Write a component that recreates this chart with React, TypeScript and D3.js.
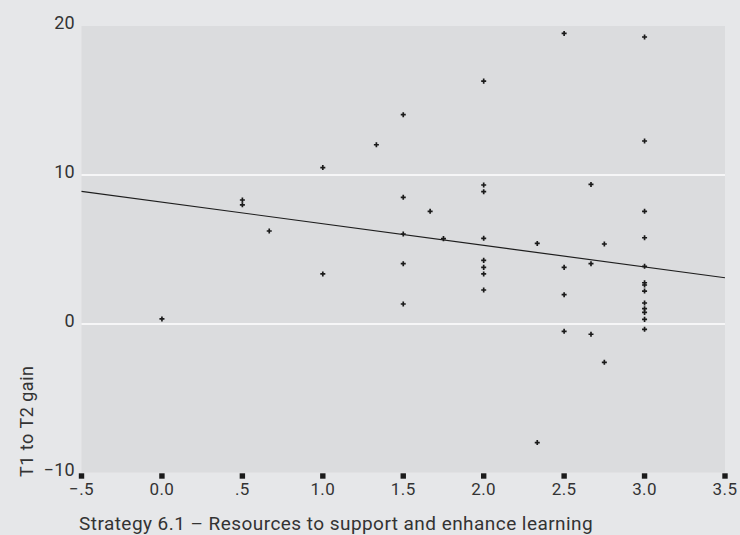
import React from "react";
import * as d3 from "d3";

// Strategy score (x) vs. T1 to T2 gain (y), one entry per school
const strategyScores: number[] = [
  0.0,
  0.5, 0.5,
  0.667,
  1.0, 1.0,
  1.333,
  1.5, 1.5, 1.5, 1.5, 1.5,
  1.667,
  1.75,
  2.0, 2.0, 2.0, 2.0, 2.0, 2.0, 2.0, 2.0,
  2.333, 2.333,
  2.5, 2.5, 2.5, 2.5,
  2.667, 2.667, 2.667,
  2.75, 2.75,
  3.0, 3.0, 3.0, 3.0, 3.0, 3.0, 3.0, 3.0, 3.0, 3.0, 3.0, 3.0, 3.0,
];

const gains: number[] = [
  0.34,
  8.32, 8.0,
  6.24,
  10.5, 3.36,
  12.03,
  14.05, 8.5, 6.04, 4.05, 1.34,
  7.56,
  5.73,
  16.3, 9.33, 8.88, 5.75, 4.27, 3.8, 3.36, 2.28,
  5.41, -7.96,
  19.5, 3.8, 1.97, -0.49,
  9.37, 4.05, -0.69,
  5.37, -2.57,
  19.26, 12.28, 7.56, 5.79, 3.87, 2.77, 2.62, 2.21, 1.41, 1.03, 0.78, 0.31, -0.36, -7.67,
];

// Fitted linear trend: gain = intercept + slope * score
const fitIntercept = 8.18;
const fitSlope = -1.45;

const xTicks: number[] = [-0.5, 0, 0.5, 1, 1.5, 2, 2.5, 3, 3.5];
const xTickLabels: string[] = ["\u2212.5", "0.0", ".5", "1.0", "1.5", "2.0", "2.5", "3.0", "3.5"];
const yTicks: number[] = [-10, 0, 10, 20];
const yTickLabels: string[] = ["\u221210", "0", "10", "20"];
const yGridLines: number[] = [0, 10];

const xTitle = "Strategy 6.1 \u2013 Resources to support and enhance learning";
const yTitle = "T1 to T2 gain";

const W = 740;
const H = 535;
const FONT = "Roboto, 'DejaVu Sans', sans-serif";
const TEXT = "#333333";

export default function App() {
  const x = d3.scaleLinear().domain([-0.5, 3.5]).range([81.5, 725]);
  const y = d3.scaleLinear().domain([-10, 20]).range([473, 26]);

  const [x0, x1] = x.range();
  const plotTop = y(20);
  const plotBottom = 472.5;

  const marker = d3.symbol().type(d3.symbolCross).size(14)() as string;
  const fitLine = d3
    .line<number>()
    .x((d) => x(d))
    .y((d) => y(fitIntercept + fitSlope * d));

  const points = strategyScores.map((s, i) => ({ s, g: gains[i] }));

  return (
    <svg
      width={W}
      height={H}
      style={{ position: "absolute", left: 0, top: 0, display: "block" }}
      fontFamily={FONT}
    >
      <rect x={0} y={0} width={W} height={H} fill="#e6e7e9" />
      <rect x={x0} y={plotTop} width={x1 - x0} height={plotBottom - plotTop} fill="#dbdcde" />

      {yGridLines.map((v) => (
        <line key={v} x1={x0} x2={x1} y1={y(v)} y2={y(v)} stroke="#ffffff" strokeWidth={1.6} />
      ))}

      {yTicks.map((v, i) => (
        <text
          key={v}
          x={75}
          y={y(v) + 3}
          textAnchor="end"
          fontSize={18}
          letterSpacing={0.3}
          fill={TEXT}
        >
          {yTickLabels[i]}
        </text>
      ))}

      {xTicks.map((v, i) => (
        <g key={v}>
          <rect x={x(v) - 2.7} y={473.3} width={5.4} height={5.4} fill="#1a1a1a" />
          <text x={x(v)} y={495} textAnchor="middle" fontSize={17} letterSpacing={0.4} fill={TEXT}>
            {xTickLabels[i]}
          </text>
        </g>
      ))}

      <path d={fitLine(x.domain()) as string} fill="none" stroke="#1e1e1e" strokeWidth={1.2} />

      {points.map((p, i) => (
        <path key={i} d={marker} transform={`translate(${x(p.s)},${y(p.g)})`} fill="#1a1a1a" />
      ))}

      <text x={79} y={530} fontSize={19} letterSpacing={0.45} fill={TEXT}>
        {xTitle}
      </text>
      <text
        transform={`translate(32.5,477) rotate(-90)`}
        fontSize={18}
        letterSpacing={0.5}
        fill={TEXT}
      >
        {yTitle}
      </text>
    </svg>
  );
}
